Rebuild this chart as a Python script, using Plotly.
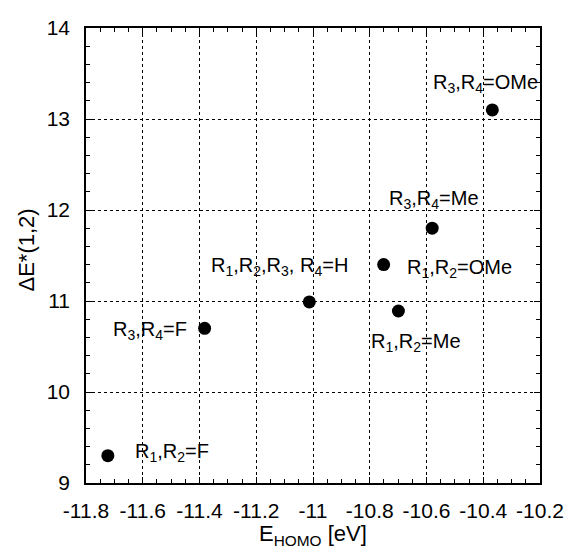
import plotly.graph_objects as go

labels = ["R<sub>1</sub>,R<sub>2</sub>=F", "R<sub>3</sub>,R<sub>4</sub>=F",
          "R<sub>1</sub>,R<sub>2</sub>,R<sub>3</sub>, R<sub>4</sub>=H",
          "R<sub>1</sub>,R<sub>2</sub>=OMe", "R<sub>1</sub>,R<sub>2</sub>=Me",
          "R<sub>3</sub>,R<sub>4</sub>=Me", "R<sub>3</sub>,R<sub>4</sub>=OMe"]
e_homo = [-11.723, -11.382, -11.013, -10.751, -10.699, -10.58, -10.368]
delta_e = [9.30, 10.70, 10.99, 11.40, 10.89, 11.80, 13.10]

x_ticks = [-11.8, -11.6, -11.4, -11.2, -11.0, -10.8, -10.6, -10.4, -10.2]
x_ticktext = ["-11.8", "-11.6", "-11.4", "-11.2", "-11", "-10.8", "-10.6", "-10.4", "-10.2"]
y_ticks = [9, 10, 11, 12, 13, 14]

# label placement offsets (pixels) and anchors
label_style = [
    dict(xanchor="left", xshift=25, yshift=3),
    dict(xanchor="right", xshift=-16, yshift=-2),
    dict(xanchor="left", xshift=-100, yshift=35),
    dict(xanchor="left", xshift=21, yshift=-4),
    dict(xanchor="left", xshift=-29, yshift=-31),
    dict(xanchor="left", xshift=-45, yshift=29),
    dict(xanchor="left", xshift=-61, yshift=26),
]

FONT = "Liberation Sans, Arial, sans-serif"

fig = go.Figure()
fig.add_trace(go.Scatter(
    x=e_homo, y=delta_e, mode="markers",
    marker=dict(color="black", size=13, line=dict(width=0)),
    showlegend=False, hoverinfo="skip"))

annotations = []
for xv, yv, txt, st in zip(e_homo, delta_e, labels, label_style):
    annotations.append(dict(x=xv, y=yv, xref="x", yref="y", text=txt,
                            showarrow=False, yanchor="middle",
                            font=dict(family=FONT, size=20, color="black"), **st))

annotations.append(dict(x=0.5, y=0, xref="paper", yref="paper",
                        text="E<sub>HOMO</sub> [eV]", showarrow=False,
                        xanchor="center", yanchor="top", yshift=-36,
                        font=dict(family=FONT, size=22, color="black")))
annotations.append(dict(x=0, y=0.5, xref="paper", yref="paper",
                        text="ΔE*(1,2)", showarrow=False, textangle=-90,
                        xanchor="center", yanchor="middle", xshift=-60, yshift=5,
                        font=dict(family=FONT, size=22, color="black")))

axis_common = dict(
    showline=True, linecolor="black", linewidth=1.5, mirror="allticks",
    ticks="inside", ticklen=6, tickcolor="black", tickwidth=1,
    showgrid=True, gridcolor="black", gridwidth=1, griddash="dot",
    zeroline=False,
    tickfont=dict(family=FONT, size=21, color="black"),
)

fig.update_xaxes(range=[-11.8, -10.2], tickvals=x_ticks, ticktext=x_ticktext,
                 minor=dict(dtick=0.05, tick0=-11.8, ticks="inside", ticklen=4,
                            tickcolor="black", showgrid=False),
                 ticklabelstandoff=8, **axis_common)
fig.update_yaxes(range=[9, 14], tickvals=y_ticks,
                 minor=dict(dtick=0.2, tick0=9, ticks="inside", ticklen=4,
                            tickcolor="black", showgrid=False),
                 ticklabelstandoff=10, **axis_common)

fig.update_layout(
    width=576, height=546,
    margin=dict(l=86, r=31, t=28, b=63),
    paper_bgcolor="white", plot_bgcolor="white",
    annotations=annotations,
    font=dict(family=FONT, color="black"),
)

fig.write_html("out.html", config={"displayModeBar": False},
               post_script="document.body.style.margin='0';document.body.style.overflow='hidden';")
